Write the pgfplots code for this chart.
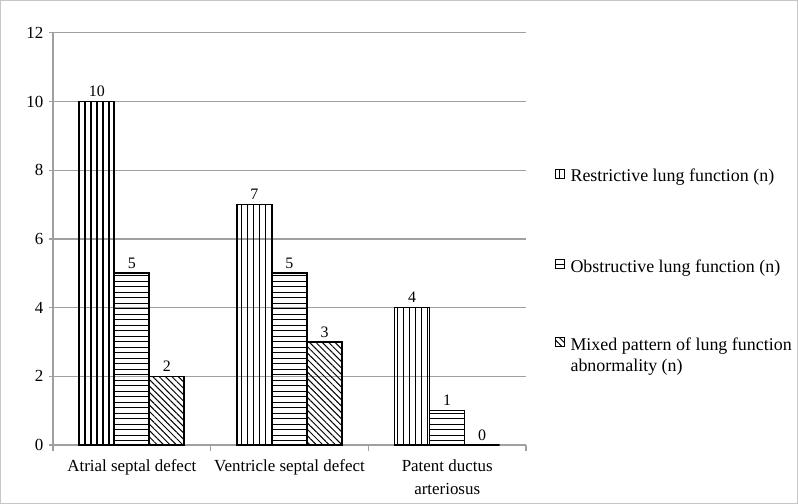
\documentclass[border=0pt]{standalone}
\usepackage{pgfplots}
\pgfplotsset{compat=1.18}
\usepackage{fontspec}
\setmainfont{Liberation Serif}
\usetikzlibrary{patterns,patterns.meta}
\definecolor{axgray}{RGB}{160,160,160}
\pgfdeclarepatternformonly{vlinesx}{\pgfqpoint{0bp}{-1bp}}{\pgfqpoint{6bp}{7bp}}{\pgfqpoint{6bp}{6bp}}{%
  \pgfsetlinewidth{1.1bp}%
  \pgfpathmoveto{\pgfqpoint{1bp}{-1bp}}%
  \pgfpathlineto{\pgfqpoint{1bp}{7bp}}%
  \pgfusepath{stroke}}
\pgfdeclarepatternformonly{hlinesx}{\pgfqpoint{-1bp}{0bp}}{\pgfqpoint{7bp}{5.5bp}}{\pgfqpoint{5.5bp}{5.5bp}}{%
  \pgfsetlinewidth{1.1bp}%
  \pgfpathmoveto{\pgfqpoint{-1bp}{2.75bp}}%
  \pgfpathlineto{\pgfqpoint{7bp}{2.75bp}}%
  \pgfusepath{stroke}}
\pgfplotsset{
  legsq/.style={legend image code/.code={\draw[##1, line width=1bp] (0bp,-2bp) rectangle (9bp,7bp); \path (12bp,0bp);}},
  legsqtall/.style={legend image code/.code={\draw[##1, line width=1bp] (0bp,-2bp) rectangle (9bp,7bp); \path (12bp,-23bp);}},
}
\begin{document}
\begin{tikzpicture}[x=1bp,y=1bp]
\draw[axgray!60, line width=0.8bp] (0.5,0.5) rectangle (797.5,503.5);
\begin{axis}[
  at={(53bp,59bp)}, anchor=south west,
  scale only axis, width=473bp, height=412bp,
  xmin=-0.5, xmax=2.5, ymin=0, ymax=12,
  ytick={0,2,...,12},
  xtick={0,1,2},
  minor xtick={-0.5,0.5,1.5,2.5},
  xticklabels={Atrial septal defect, Ventricle septal defect, {Patent ductus\\arteriosus}},
  xticklabel style={align=center, font=\fontsize{17}{23}\selectfont, yshift=-7bp},
  yticklabel style={font=\fontsize{17}{19}\selectfont, xshift=-2bp},
  /pgf/number format/assume math mode=true,
  axis x line=bottom, axis y line=left,
  axis line style={-, axgray, line width=1.2bp},
  major x tick style={draw=none},
  minor x tick style={axgray, line width=1.2bp},
  minor tick length=6bp,
  y tick style={axgray, line width=1.2bp},
  major tick length=4bp,
  tick align=outside,
  ymajorgrids, grid style={axgray, line width=1.2bp},
  ybar, bar width=0.222,
  nodes near coords,
  every node near coord/.append style={font=\fontsize{16}{18}\selectfont, black, inner sep=4bp},
  legend style={at={(1.055,0.68)}, anchor=north west, draw=none, fill=none,
    row sep=58bp, cells={anchor=west}, font=\fontsize{18}{21}\selectfont},
  legend cell align=left,
  legsq,
]
\addplot[bar shift=-0.222, draw=black, line width=1.6bp, pattern=vlinesx, pattern color=black, legsqtall]
  coordinates {(0,10) (1,7) (2,4)};
\addplot[bar shift=0, draw=black, line width=1.6bp, pattern=hlinesx, pattern color=black]
  coordinates {(0,5) (1,5) (2,1)};
\addplot[bar shift=0.222, draw=black, line width=1.6bp, pattern={Lines[angle=-45,distance=4.5bp,line width=1bp]}, pattern color=black]
  coordinates {(0,2) (1,3) (2,0)};
\legend{Restrictive lung function (n),
  Obstructive lung function (n),
  {\begin{tabular}[t]{@{}l@{}}Mixed pattern of lung function\\abnormality (n)\end{tabular}}}
\end{axis}
\end{tikzpicture}
\end{document}
